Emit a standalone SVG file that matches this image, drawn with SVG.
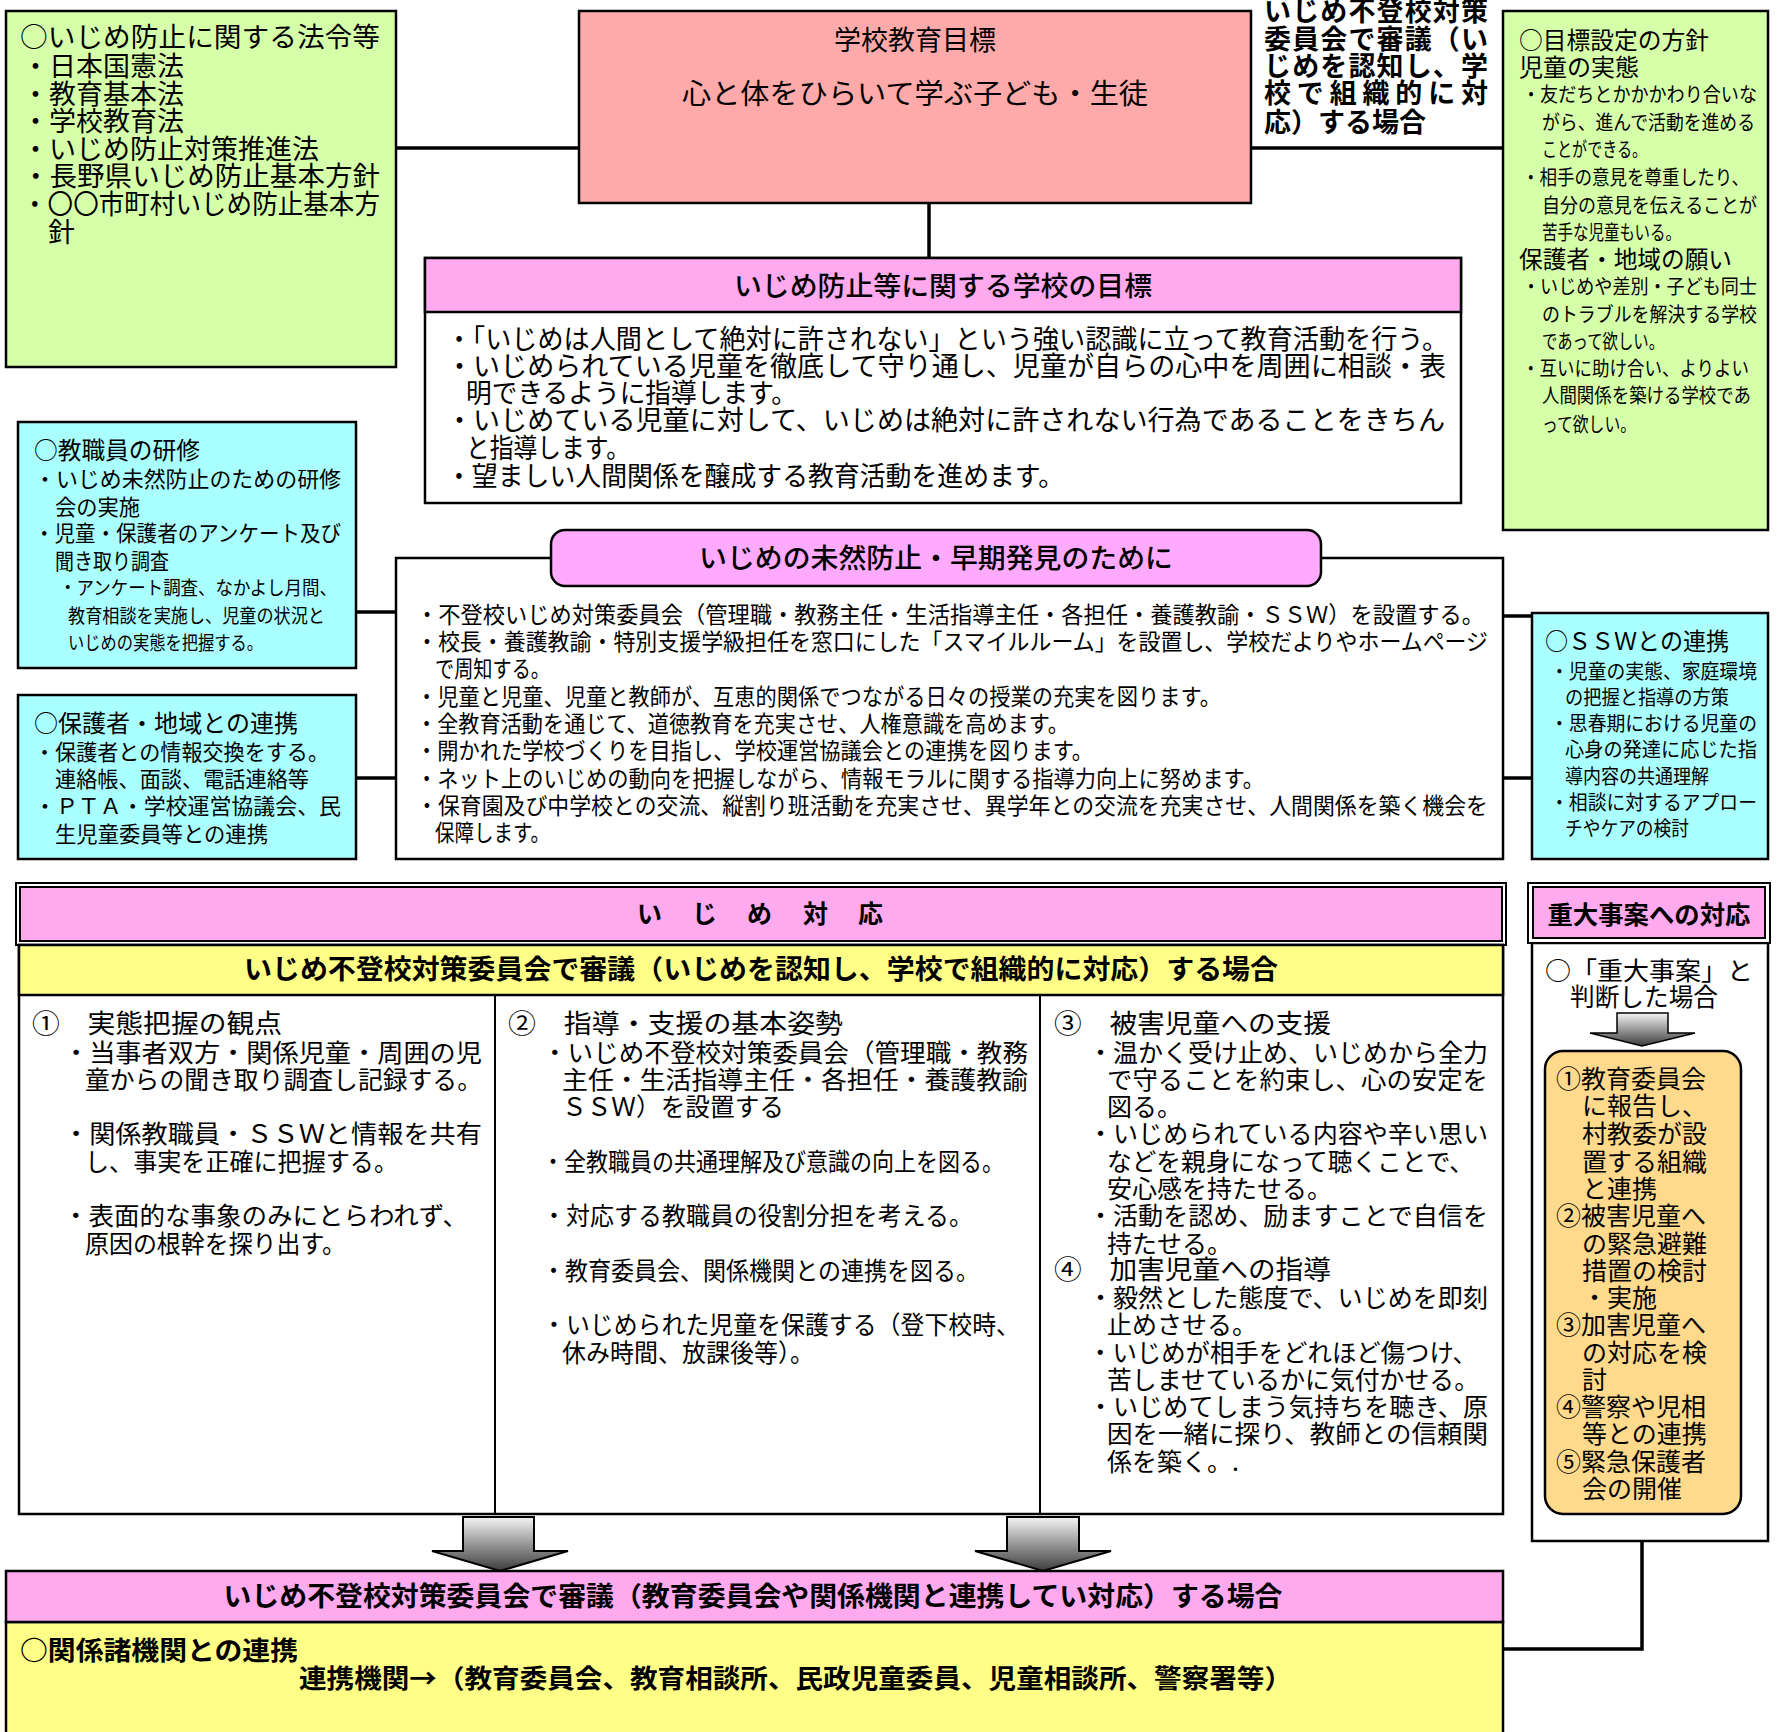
<svg xmlns="http://www.w3.org/2000/svg" width="1781" height="1732" viewBox="0 0 1781 1732">
<style>
.bx{stroke:#000;stroke-width:2.5}
.t{font-family:"Noto Sans CJK JP","Noto Sans CJK SC",sans-serif;fill:#000}
.b{font-weight:bold}
.m{font-weight:500}
.c{stroke:#000;stroke-width:3.5;fill:none}
.s27{font-size:27px}.s26{font-size:26px}.s25{font-size:25px}.s24{font-size:24px}.s23{font-size:23px}.s22{font-size:22px}.s20{font-size:20px}.s19{font-size:19px}.s28{font-size:28px}
</style>
<defs>
<linearGradient id="ag" x1="0" y1="0" x2="0" y2="1">
<stop offset="0" stop-color="#f4f4f4"/>
<stop offset="1" stop-color="#3c3c3c"/>
</linearGradient>
</defs>
<rect width="1781" height="1732" fill="#fff"/>

<g id="connectors">
<line class="c" x1="396" y1="148" x2="579" y2="148"/>
<line class="c" x1="1251" y1="148" x2="1503" y2="148"/>
<line class="c" x1="929" y1="203" x2="929" y2="258"/>
<line class="c" x1="356" y1="612" x2="396" y2="612"/>
<line class="c" x1="356" y1="778" x2="396" y2="778"/>
<line class="c" x1="1503" y1="616" x2="1532" y2="616"/>
<line class="c" x1="1503" y1="778" x2="1532" y2="778"/>
<polyline class="c" points="1642,1541 1642,1649 1503,1649"/>
</g>

<g id="laws">
<rect class="bx" x="6" y="11" width="390" height="356" fill="#d6ffaa"/>
<g class="t s27">
<text x="20" y="47" textLength="360" lengthAdjust="spacingAndGlyphs">○いじめ防止に関する法令等</text>
<text x="22" y="76">・日本国憲法</text>
<text x="22" y="104">・教育基本法</text>
<text x="22" y="131">・学校教育法</text>
<text x="22" y="159">・いじめ防止対策推進法</text>
<text x="22" y="186" textLength="358" lengthAdjust="spacingAndGlyphs">・長野県いじめ防止基本方針</text>
<text x="22" y="214" textLength="358" lengthAdjust="spacingAndGlyphs">・〇〇市町村いじめ防止基本方</text>
<text x="48" y="242">針</text>
</g>
</g>

<g id="school-goal">
<rect class="bx" x="579" y="11" width="672" height="192" fill="#ffaaaa"/>
<text class="t s27" x="915" y="50" text-anchor="middle">学校教育目標</text>
<text class="t s28" x="915" y="104" text-anchor="middle" textLength="466" lengthAdjust="spacingAndGlyphs">心と体をひらいて学ぶ子ども・生徒</text>
</g>

<g id="committee-note" class="t s27 b">
<text x="1264" y="21" textLength="224" lengthAdjust="spacing">いじめ不登校対策</text>
<text x="1264" y="49" textLength="224" lengthAdjust="spacing">委員会で審議（い</text>
<text x="1264" y="76" textLength="224" lengthAdjust="spacing">じめを認知し、学</text>
<text x="1264" y="103" textLength="224" lengthAdjust="spacing">校で組織的に対</text>
<text x="1264" y="132">応）する場合</text>
</g>

<g id="policy">
<rect class="bx" x="1503" y="11" width="265" height="519" fill="#d6ffaa"/>
<g class="t s24">
<text x="1519" y="49" textLength="190" lengthAdjust="spacingAndGlyphs">○目標設定の方針</text>
<text x="1519" y="76">児童の実態</text>
<text x="1519" y="268" textLength="213" lengthAdjust="spacingAndGlyphs">保護者・地域の願い</text>
</g>
<g class="t s20">
<text x="1522" y="102" textLength="235" lengthAdjust="spacingAndGlyphs">・友だちとかかかわり合いな</text>
<text x="1542" y="130" textLength="213" lengthAdjust="spacingAndGlyphs">がら、進んで活動を進める</text>
<text x="1542" y="157" textLength="105" lengthAdjust="spacingAndGlyphs">ことができる。</text>
<text x="1522" y="185" textLength="227" lengthAdjust="spacingAndGlyphs">・相手の意見を尊重したり、</text>
<text x="1542" y="213" textLength="215" lengthAdjust="spacingAndGlyphs">自分の意見を伝えることが</text>
<text x="1542" y="240" textLength="139" lengthAdjust="spacingAndGlyphs">苦手な児童もいる。</text>
<text x="1522" y="294" textLength="235" lengthAdjust="spacingAndGlyphs">・いじめや差別・子ども同士</text>
<text x="1542" y="322" textLength="215" lengthAdjust="spacingAndGlyphs">のトラブルを解決する学校</text>
<text x="1542" y="349" textLength="122" lengthAdjust="spacingAndGlyphs">であって欲しい。</text>
<text x="1522" y="376" textLength="227" lengthAdjust="spacingAndGlyphs">・互いに助け合い、よりよい</text>
<text x="1542" y="403" textLength="209" lengthAdjust="spacingAndGlyphs">人間関係を築ける学校であ</text>
<text x="1542" y="432" textLength="94" lengthAdjust="spacingAndGlyphs">って欲しい。</text>
</g>
</g>

<g id="prevention-goal">
<rect class="bx" x="425" y="258" width="1036" height="245" fill="#fff"/>
<rect class="bx" x="425" y="258" width="1036" height="54" fill="#ffaaee"/>
<text class="t s27 m" x="943" y="296" text-anchor="middle" textLength="418" lengthAdjust="spacingAndGlyphs">いじめ防止等に関する学校の目標</text>
<g class="t s27">
<text x="446" y="349" textLength="1002" lengthAdjust="spacingAndGlyphs">・「いじめは人間として絶対に許されない」という強い認識に立って教育活動を行う。</text>
<text x="446" y="376" textLength="1000" lengthAdjust="spacingAndGlyphs">・いじめられている児童を徹底して守り通し、児童が自らの心中を周囲に相談・表</text>
<text x="466" y="403" textLength="331" lengthAdjust="spacingAndGlyphs">明できるように指導します。</text>
<text x="446" y="430" textLength="999" lengthAdjust="spacingAndGlyphs">・いじめている児童に対して、いじめは絶対に許されない行為であることをきちん</text>
<text x="466" y="458" textLength="164" lengthAdjust="spacingAndGlyphs">と指導します。</text>
<text x="446" y="486" textLength="618" lengthAdjust="spacingAndGlyphs">・望ましい人間関係を醸成する教育活動を進めます。</text>
</g>
</g>

<g id="early-detection">
<rect class="bx" x="396" y="558" width="1107" height="301" fill="#fff"/>
<rect class="bx" x="551" y="530" width="770" height="56" rx="14" fill="#ffaaff"/>
<text class="t s27 m" x="936" y="568" text-anchor="middle" textLength="474" lengthAdjust="spacingAndGlyphs">いじめの未然防止・早期発見のために</text>
<g class="t s23">
<text x="416" y="623" textLength="1068" lengthAdjust="spacingAndGlyphs">・不登校いじめ対策委員会（管理職・教務主任・生活指導主任・各担任・養護教諭・ＳＳＷ）を設置する。</text>
<text x="416" y="650" textLength="1072" lengthAdjust="spacingAndGlyphs">・校長・養護教諭・特別支援学級担任を窓口にした「スマイルルーム」を設置し、学校だよりやホームページ</text>
<text x="435" y="677" textLength="115" lengthAdjust="spacingAndGlyphs">で周知する。</text>
<text x="416" y="705" textLength="805" lengthAdjust="spacingAndGlyphs">・児童と児童、児童と教師が、互恵的関係でつながる日々の授業の充実を図ります。</text>
<text x="416" y="732" textLength="653" lengthAdjust="spacingAndGlyphs">・全教育活動を通じて、道徳教育を充実させ、人権意識を高めます。</text>
<text x="416" y="759" textLength="677" lengthAdjust="spacingAndGlyphs">・開かれた学校づくりを目指し、学校運営協議会との連携を図ります。</text>
<text x="416" y="787" textLength="848" lengthAdjust="spacingAndGlyphs">・ネット上のいじめの動向を把握しながら、情報モラルに関する指導力向上に努めます。</text>
<text x="416" y="814" textLength="1072" lengthAdjust="spacingAndGlyphs">・保育園及び中学校との交流、縦割り班活動を充実させ、異学年との交流を充実させ、人間関係を築く機会を</text>
<text x="435" y="841" textLength="115" lengthAdjust="spacingAndGlyphs">保障します。</text>
</g>
</g>

<g id="staff-training">
<rect class="bx" x="18" y="422" width="338" height="246" fill="#aaffff"/>
<text class="t s24" x="34" y="459" textLength="166" lengthAdjust="spacingAndGlyphs">○教職員の研修</text>
<g class="t s22">
<text x="34" y="487" textLength="307" lengthAdjust="spacingAndGlyphs">・いじめ未然防止のための研修</text>
<text x="55" y="515" textLength="85" lengthAdjust="spacingAndGlyphs">会の実施</text>
<text x="34" y="541" textLength="307" lengthAdjust="spacingAndGlyphs">・児童・保護者のアンケート及び</text>
<text x="55" y="569" textLength="114" lengthAdjust="spacingAndGlyphs">聞き取り調査</text>
</g>
<g class="t s19">
<text x="59" y="595" textLength="278" lengthAdjust="spacingAndGlyphs">・アンケート調査、なかよし月間、</text>
<text x="68" y="623" textLength="257" lengthAdjust="spacingAndGlyphs">教育相談を実施し、児童の状況と</text>
<text x="68" y="650" textLength="195" lengthAdjust="spacingAndGlyphs">いじめの実態を把握する。</text>
</g>
</g>

<g id="community">
<rect class="bx" x="18" y="695" width="338" height="164" fill="#aaffff"/>
<text class="t s24" x="34" y="732" textLength="264" lengthAdjust="spacingAndGlyphs">○保護者・地域との連携</text>
<g class="t s22">
<text x="34" y="760" textLength="295" lengthAdjust="spacingAndGlyphs">・保護者との情報交換をする。</text>
<text x="55" y="787" textLength="254" lengthAdjust="spacingAndGlyphs">連絡帳、面談、電話連絡等</text>
<text x="34" y="814" textLength="307" lengthAdjust="spacingAndGlyphs">・ＰＴＡ・学校運営協議会、民</text>
<text x="55" y="842" textLength="213" lengthAdjust="spacingAndGlyphs">生児童委員等との連携</text>
</g>
</g>

<g id="ssw">
<rect class="bx" x="1532" y="613" width="236" height="246" fill="#aaffff"/>
<text class="t s24" x="1545" y="650" textLength="184" lengthAdjust="spacingAndGlyphs">○ＳＳＷとの連携</text>
<g class="t s20">
<text x="1550" y="679" textLength="207" lengthAdjust="spacingAndGlyphs">・児童の実態、家庭環境</text>
<text x="1565" y="705" textLength="164" lengthAdjust="spacingAndGlyphs">の把握と指導の方策</text>
<text x="1550" y="731" textLength="207" lengthAdjust="spacingAndGlyphs">・思春期における児童の</text>
<text x="1565" y="757" textLength="192" lengthAdjust="spacingAndGlyphs">心身の発達に応じた指</text>
<text x="1565" y="784" textLength="144" lengthAdjust="spacingAndGlyphs">導内容の共通理解</text>
<text x="1550" y="810" textLength="207" lengthAdjust="spacingAndGlyphs">・相談に対するアプロー</text>
<text x="1565" y="836" textLength="124" lengthAdjust="spacingAndGlyphs">チやケアの検討</text>
</g>
</g>

<g id="response">
<rect x="16" y="883" width="1490" height="62" fill="none" stroke="#000" stroke-width="2"/>
<rect x="20" y="887" width="1482" height="54" fill="#ffaaee" stroke="#000" stroke-width="2"/>
<text class="t s25 b" x="637 692 747 803 858" y="923">いじめ対応</text>
<rect class="bx" x="19" y="945" width="1484" height="569" fill="#fff"/>
<rect class="bx" x="19" y="945" width="1484" height="50" fill="#ffff88"/>
<text class="t s27 b" x="761" y="979" text-anchor="middle" textLength="1034" lengthAdjust="spacingAndGlyphs">いじめ不登校対策委員会で審議（いじめを認知し、学校で組織的に対応）する場合</text>
<line x1="495" y1="995" x2="495" y2="1514" stroke="#000" stroke-width="2"/>
<line x1="1040" y1="995" x2="1040" y2="1514" stroke="#000" stroke-width="2"/>
<g class="t s25">
<text class="s26" x="32" y="1033" textLength="250" lengthAdjust="spacingAndGlyphs">①　実態把握の観点</text>
<text x="63" y="1062" textLength="419" lengthAdjust="spacingAndGlyphs">・当事者双方・関係児童・周囲の児</text>
<text x="85" y="1089" textLength="397" lengthAdjust="spacingAndGlyphs">童からの聞き取り調査し記録する。</text>
<text x="63" y="1143" textLength="419" lengthAdjust="spacingAndGlyphs">・関係教職員・ＳＳＷと情報を共有</text>
<text x="85" y="1171" textLength="313" lengthAdjust="spacingAndGlyphs">し、事実を正確に把握する。</text>
<text x="63" y="1225" textLength="405" lengthAdjust="spacingAndGlyphs">・表面的な事象のみにとらわれず、</text>
<text x="85" y="1253" textLength="261" lengthAdjust="spacingAndGlyphs">原因の根幹を探り出す。</text>

<text class="s26" x="508" y="1033" textLength="335" lengthAdjust="spacingAndGlyphs">②　指導・支援の基本姿勢</text>
<text x="542" y="1062" textLength="486" lengthAdjust="spacingAndGlyphs">・いじめ不登校対策委員会（管理職・教務</text>
<text x="562" y="1089" textLength="466" lengthAdjust="spacingAndGlyphs">主任・生活指導主任・各担任・養護教諭</text>
<text x="562" y="1116" textLength="222" lengthAdjust="spacingAndGlyphs">ＳＳＷ）を設置する</text>
<text x="542" y="1171" textLength="462" lengthAdjust="spacingAndGlyphs">・全教職員の共通理解及び意識の向上を図る。</text>
<text x="542" y="1225" textLength="431" lengthAdjust="spacingAndGlyphs">・対応する教職員の役割分担を考える。</text>
<text x="542" y="1280" textLength="437" lengthAdjust="spacingAndGlyphs">・教育委員会、関係機関との連携を図る。</text>
<text x="542" y="1334" textLength="478" lengthAdjust="spacingAndGlyphs">・いじめられた児童を保護する（登下校時、</text>
<text x="562" y="1362" textLength="252" lengthAdjust="spacingAndGlyphs">休み時間、放課後等）。</text>

<text class="s26" x="1054" y="1033" textLength="277" lengthAdjust="spacingAndGlyphs">③　被害児童への支援</text>
<text x="1088" y="1062" textLength="400" lengthAdjust="spacingAndGlyphs">・温かく受け止め、いじめから全力</text>
<text x="1107" y="1089" textLength="381" lengthAdjust="spacingAndGlyphs">で守ることを約束し、心の安定を</text>
<text x="1107" y="1116">図る。</text>
<text x="1088" y="1143" textLength="400" lengthAdjust="spacingAndGlyphs">・いじめられている内容や辛い思い</text>
<text x="1107" y="1171" textLength="367" lengthAdjust="spacingAndGlyphs">などを親身になって聴くことで、</text>
<text x="1107" y="1198">安心感を持たせる。</text>
<text x="1088" y="1225" textLength="400" lengthAdjust="spacingAndGlyphs">・活動を認め、励ますことで自信を</text>
<text x="1107" y="1253">持たせる。</text>
<text class="s26" x="1054" y="1279" textLength="277" lengthAdjust="spacingAndGlyphs">④　加害児童への指導</text>
<text x="1088" y="1307" textLength="400" lengthAdjust="spacingAndGlyphs">・毅然とした態度で、いじめを即刻</text>
<text x="1107" y="1334">止めさせる。</text>
<text x="1088" y="1362" textLength="389" lengthAdjust="spacingAndGlyphs">・いじめが相手をどれほど傷つけ、</text>
<text x="1107" y="1389" textLength="372" lengthAdjust="spacingAndGlyphs">苦しませているかに気付かせる。</text>
<text x="1088" y="1416" textLength="400" lengthAdjust="spacingAndGlyphs">・いじめてしまう気持ちを聴き、原</text>
<text x="1107" y="1443" textLength="381" lengthAdjust="spacingAndGlyphs">因を一緒に探り、教師との信頼関</text>
<text x="1107" y="1471">係を築く。.</text>
</g>
</g>

<g id="arrows">
<polygon points="463,1517 534,1517 534,1551 568,1551 500,1571 432,1551 463,1551" fill="url(#ag)" stroke="#000" stroke-width="2"/>
<polygon points="1007,1517 1079,1517 1079,1551 1111,1551 1043,1571 975,1551 1007,1551" fill="url(#ag)" stroke="#000" stroke-width="2"/>
</g>

<g id="agency-case">
<rect class="bx" x="6" y="1622" width="1497" height="118" fill="#ffff88"/>
<rect class="bx" x="6" y="1571" width="1497" height="51" fill="#ffaaee"/>
<text class="t s27 b" x="753" y="1606" text-anchor="middle" textLength="1059" lengthAdjust="spacingAndGlyphs">いじめ不登校対策委員会で審議（教育委員会や関係機関と連携してい対応）する場合</text>
<text class="t s26 b" x="20" y="1660" textLength="278" lengthAdjust="spacingAndGlyphs">○関係諸機関との連携</text>
<text class="t s26 b" x="299" y="1688" textLength="993" lengthAdjust="spacingAndGlyphs">連携機関→（教育委員会、教育相談所、民政児童委員、児童相談所、警察署等）</text>
</g>

<g id="serious-case">
<rect class="bx" x="1532" y="943" width="236" height="598" fill="#fff"/>
<rect x="1528" y="883" width="242" height="60" fill="#fff" stroke="#000" stroke-width="2"/>
<rect x="1533" y="887" width="232" height="51" fill="#ffaaee" stroke="#000" stroke-width="2"/>
<text class="t s25 b" x="1649" y="924" text-anchor="middle" textLength="203" lengthAdjust="spacingAndGlyphs">重大事案への対応</text>
<text class="t s25" x="1545" y="980" textLength="208" lengthAdjust="spacingAndGlyphs">○「重大事案」と</text>
<text class="t s25" x="1570" y="1006" textLength="148" lengthAdjust="spacingAndGlyphs">判断した場合</text>
<polygon points="1617,1013 1668,1013 1668,1033 1695,1033 1642,1046 1590,1033 1617,1033" fill="url(#ag)" stroke="#000" stroke-width="1.5"/>
<rect class="bx" x="1545" y="1051" width="196" height="463" rx="18" fill="#ffd98c"/>
<g class="t s25">
<text x="1556" y="1088">①教育委員会</text>
<text x="1582" y="1115">に報告し、</text>
<text x="1582" y="1143">村教委が設</text>
<text x="1582" y="1171">置する組織</text>
<text x="1582" y="1198">と連携</text>
<text x="1556" y="1225">②被害児童へ</text>
<text x="1582" y="1253">の緊急避難</text>
<text x="1582" y="1280">措置の検討</text>
<text x="1582" y="1307">・実施</text>
<text x="1556" y="1334">③加害児童へ</text>
<text x="1582" y="1362">の対応を検</text>
<text x="1582" y="1389">討</text>
<text x="1556" y="1416">④警察や児相</text>
<text x="1582" y="1443">等との連携</text>
<text x="1556" y="1471">⑤緊急保護者</text>
<text x="1582" y="1498">会の開催</text>
</g>
</g>
</svg>
